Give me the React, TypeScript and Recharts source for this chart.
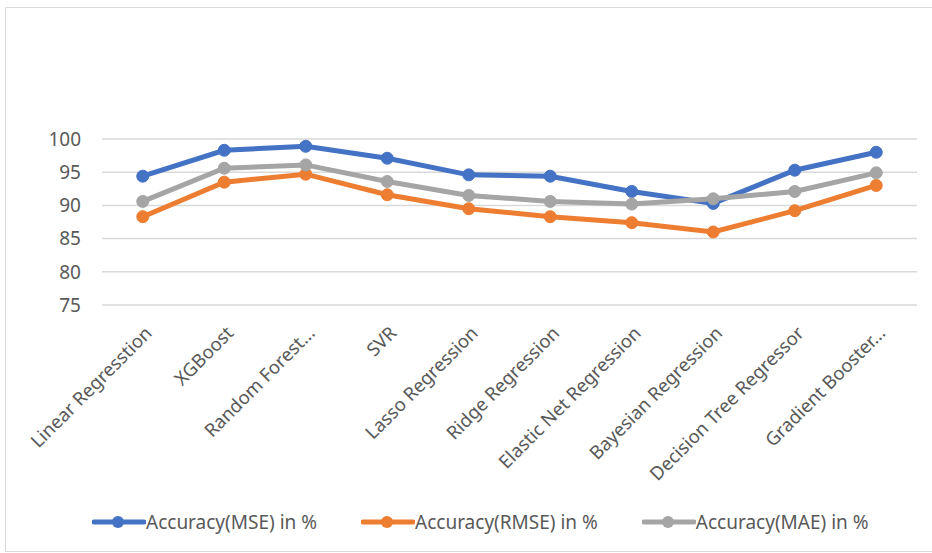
import { LineChart, Line, XAxis, YAxis, CartesianGrid, Legend } from 'recharts';

const models = [
  'Linear Regresstion',
  'XGBoost',
  'Random Forest...',
  'SVR',
  'Lasso Regression',
  'Ridge Regression',
  'Elastic Net Regression',
  'Bayesian Regression',
  'Decision Tree Regressor',
  'Gradient Booster...',
];

const mseAcc = [94.4, 98.3, 98.9, 97.1, 94.6, 94.4, 92.1, 90.3, 95.3, 98.0];
const rmseAcc = [88.3, 93.5, 94.7, 91.6, 89.5, 88.3, 87.4, 86.0, 89.2, 93.0];
const maeAcc = [90.6, 95.6, 96.1, 93.6, 91.5, 90.6, 90.2, 91.0, 92.1, 94.9];

const yTicks = [75, 80, 85, 90, 95, 100];

const SERIES = [
  { key: 'mse', name: 'Accuracy(MSE) in %', color: '#4472C4' },
  { key: 'rmse', name: 'Accuracy(RMSE) in %', color: '#ED7D31' },
  { key: 'mae', name: 'Accuracy(MAE) in %', color: '#A5A5A5' },
];

const data = models.map((name, i) => ({
  name,
  mse: mseAcc[i],
  rmse: rmseAcc[i],
  mae: maeAcc[i],
}));

const FONT = '"Noto Sans", sans-serif';
const TEXT = '#595959';

// rotated category labels, Excel style
function CategoryTick({ x, y, payload }: any) {
  return (
    <text
      x={x + 5}
      y={y}
      transform={`rotate(-45, ${x + 5}, ${y})`}
      textAnchor="end"
      dominantBaseline="central"
      fontFamily={FONT}
      fontSize={18.5}
      fill={TEXT}
    >
      {payload.value}
    </text>
  );
}

function LegendBox() {
  return (
    <div style={{ display: 'flex', gap: 44, height: 24, alignItems: 'center', paddingLeft: 92, fontFamily: FONT, fontSize: 19, color: TEXT }}>
      {SERIES.map((s) => (
        <div key={s.key} style={{ display: 'flex', alignItems: 'center' }}>
          <svg width={54} height={14}>
            <line x1={2} y1={7} x2={52} y2={7} stroke={s.color} strokeWidth={5} strokeLinecap="round" />
            <circle cx={26} cy={7} r={6} fill={s.color} />
          </svg>
          <span>{s.name}</span>
        </div>
      ))}
    </div>
  );
}

export default function App() {
  return (
    <div style={{ position: 'absolute', left: 0, top: 0, width: 932, height: 553, overflow: 'hidden', background: '#fff' }}>
      <div style={{ position: 'absolute', left: 5, top: 7, width: 940, height: 543, border: '1px solid #d9d9d9' }} />
      <LineChart width={932} height={553} data={data} margin={{ top: 139, right: 15, left: 0, bottom: 0 }}>
        <CartesianGrid vertical={false} stroke="#d9d9d9" strokeWidth={1.5} />
        <XAxis
          dataKey="name"
          interval={0}
          axisLine={false}
          tickLine={false}
          tickSize={0}
          tickMargin={24}
          height={224}
          padding={{ left: 40.75, right: 40.75 }}
          tick={<CategoryTick />}
        />
        <YAxis
          domain={[75, 100]}
          ticks={yTicks}
          width={102}
          axisLine={false}
          tickLine={false}
          tickSize={0}
          tickMargin={21}
          tick={{ fontFamily: FONT, fontSize: 19, fill: TEXT }}
        />
        <Legend
          content={<LegendBox />}
          wrapperStyle={{ top: 510, left: 0, width: 932 }}
        />
        {SERIES.map((s) => (
          <Line
            key={s.key}
            dataKey={s.key}
            name={s.name}
            stroke={s.color}
            strokeWidth={5}
            dot={{ r: 6, fill: s.color, stroke: s.color, strokeWidth: 1 }}
            activeDot={false}
            isAnimationActive={false}
          />
        ))}
      </LineChart>
    </div>
  );
}
